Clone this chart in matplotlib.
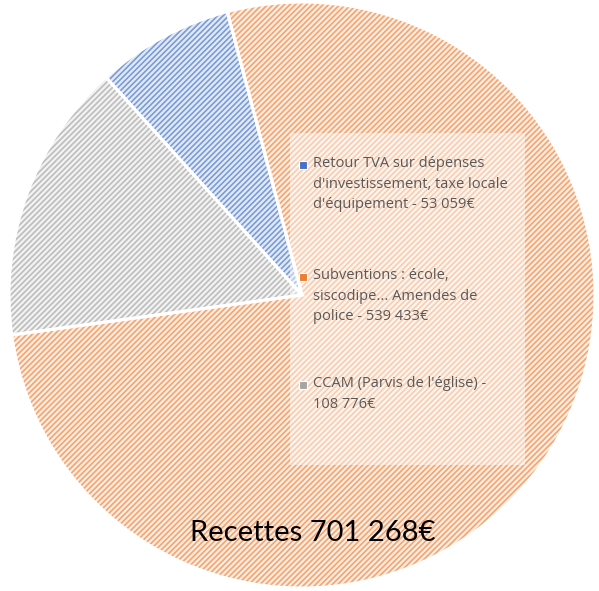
import matplotlib.pyplot as plt
from matplotlib.patches import Rectangle

labels = [
    "Retour TVA sur dépenses\nd'investissement, taxe locale\nd'équipement - 53 059€",
    "Subventions : école,\nsiscodipe... Amendes de\npolice - 539 433€",
    "CCAM (Parvis de l'église) -\n108 776€",
]
values = [53059, 539433, 108776]
colors = ["#4472C4", "#ED7D31", "#A5A5A5"]
hatch_colors = ["#7A9BD6", "#F4A46F", "#BDBDBD"]
tints = ["#E3EAF7", "#FDEDE2", "#F2F2F2"]
title = "Recettes 701 268€"

W, H = 599, 591
plt.rcParams["hatch.linewidth"] = 1.2

fig = plt.figure(figsize=(W / 100, H / 100), dpi=100)
ax = fig.add_axes([0, 0, 1, 1])

center = (302, H - 295)
radius = 293

# hatched fill (hatch colour comes from edgecolor)
wedges, _ = ax.pie(values, colors=tints, startangle=132, counterclock=False,
                   center=center, radius=radius,
                   wedgeprops=dict(linewidth=0, hatch="//////"))
for w, c in zip(wedges, hatch_colors):
    w.set_edgecolor(c)
    w.set_linewidth(0)

# white separators on top
ax.pie(values, colors=["none"] * 3, startangle=132, counterclock=False,
       center=center, radius=radius,
       wedgeprops=dict(linewidth=2.2, edgecolor="white", fill=False))

ax.set_xlim(0, W)
ax.set_ylim(0, H)
ax.set_aspect("equal")
ax.axis("off")

# legend box
ax.add_patch(Rectangle((290, H - 465), 235, 332, facecolor="white", alpha=0.45,
                       edgecolor="none", zorder=5))

tops = [156, 268, 376]
for lab, c, t in zip(labels, colors, tops):
    ax.plot(303, H - t - 9, marker="s", markersize=5.5, color=c,
            markeredgecolor="white", markeredgewidth=0.8, zorder=6)
    ax.text(313, H - t, lab, fontsize=10.5, family="Open Sans", color="#595959",
            va="top", ha="left", linespacing=1.5, zorder=6)

ax.text(313, H - 541, title, fontsize=21, family="Lato", color="black",
        ha="center", va="baseline", zorder=6)

fig.savefig("out.png", dpi=100)
